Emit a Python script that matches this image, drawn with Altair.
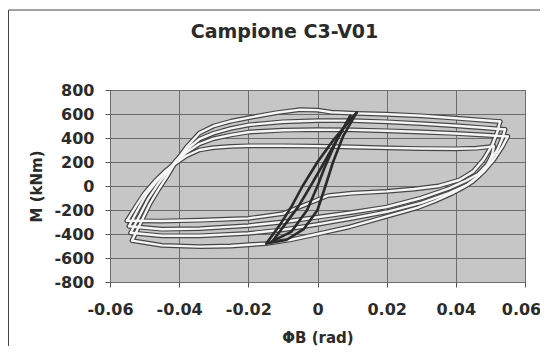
import altair as alt
import pandas as pd

TITLE = "Campione C3-V01"
X_TITLE = "ΦB (rad)"
Y_TITLE = "M (kNm)"
X_TICKS = [-0.06, -0.04, -0.02, 0, 0.02, 0.04, 0.06]
Y_TICKS = [-800, -600, -400, -200, 0, 200, 400, 600, 800]

# --- small cycles (dark lines) ---
SA_X = [-0.0148, -0.011, -0.0075, -0.0043, 0.0, 0.0045, 0.0113]
SA_M = [-479, -330, -170, 0, 200, 380, 611]
SD_X = [0.0113, 0.0075, 0.0045, 0.0023, 0.0, -0.004, -0.009, -0.0148]
SD_M = [611, 420, 200, 0, -200, -360, -450, -479]
SB_X = [-0.013, -0.0055, -0.002, 0.003, 0.0095]
SB_M = [-460, -170, 0, 250, 585]
SC_X = [0.0095, 0.0055, 0.002, 0.0, -0.003, -0.0075, -0.013]
SC_M = [585, 380, 150, 0, -200, -380, -460]

# --- large cycles: upper branches (left tip -> right tip) ---
U1_X = [-0.0536, -0.051, -0.0485, -0.046, -0.0435, -0.041, -0.038, -0.0342, -0.03, -0.025,
        -0.0197, -0.012, -0.005, 0.0, 0.004, 0.0113, 0.02, 0.03, 0.04, 0.0528]
U1_M = [-455, -300, -150, -30, 80, 200, 320, 440, 500, 540, 570, 610, 636, 632, 615, 605,
        598, 585, 565, 537]
U2_X = [-0.054, -0.0515, -0.049, -0.046, -0.043, -0.041, -0.038, -0.0342, -0.03, -0.025,
        -0.0197, -0.01, 0.0, 0.01, 0.02, 0.03, 0.04, 0.048, 0.0542]
U2_M = [-390, -250, -110, 20, 130, 210, 300, 390, 440, 480, 510, 535, 545, 545, 535, 520,
        502, 485, 471]
U3_X = [-0.0545, -0.052, -0.0495, -0.0465, -0.0435, -0.041, -0.038, -0.0342, -0.03, -0.025,
        -0.0197, -0.01, 0.0, 0.01, 0.02, 0.03, 0.04, 0.048, 0.055]
U3_M = [-335, -200, -70, 40, 130, 200, 280, 350, 395, 425, 450, 465, 470, 468, 460, 450,
        438, 425, 413]
U4_X = [-0.0551, -0.0525, -0.05, -0.047, -0.044, -0.041, -0.038, -0.0342, -0.03, -0.025,
        -0.0197, -0.01, 0.0, 0.01, 0.02, 0.03, 0.04, 0.046, 0.051]
U4_M = [-290, -170, -60, 40, 125, 190, 250, 300, 320, 330, 335, 335, 332, 325, 318, 312,
        310, 315, 330]

# --- large cycles: lower branches (right tip -> left tip) ---
B1_X = [0.0528, 0.052, 0.0505, 0.048, 0.045, 0.041, 0.035, 0.028, 0.02, 0.01, 0.003,
        -0.003, -0.01, -0.02, -0.034, -0.045, -0.0551]
B1_M = [537, 450, 340, 220, 120, 50, 0, -25, -45, -60, -80, -150, -230, -270, -285, -292, -290]
B2_X = [0.0542, 0.0535, 0.052, 0.0495, 0.0465, 0.043, 0.038, 0.03, 0.02, 0.01, 0.0, -0.01,
        -0.02, -0.034, -0.045, -0.0545]
B2_M = [471, 400, 300, 190, 100, 45, -20, -100, -175, -220, -260, -300, -330, -355, -360, -335]
B3_X = [0.051, 0.0505, 0.049, 0.0465, 0.043, 0.038, 0.03, 0.02, 0.01, 0.0, -0.01, -0.02,
        -0.034, -0.045, -0.054]
B3_M = [330, 260, 170, 80, 5, -60, -140, -215, -270, -320, -365, -395, -415, -415, -390]
B4_X = [0.055, 0.0535, 0.051, 0.048, 0.045, 0.042, 0.039, 0.034, 0.029, 0.019, 0.0093, 0.0,
        -0.008, -0.015, -0.025, -0.034, -0.045, -0.0536]
B4_M = [413, 330, 220, 120, 40, -15, -60, -125, -180, -262, -340, -400, -450, -480, -500,
        -505, -495, -455]

segments = [
    ("S", "SA", SA_X, SA_M), ("S", "SD", SD_X, SD_M),
    ("S", "SB", SB_X, SB_M), ("S", "SC", SC_X, SC_M),
    ("L", "U1", U1_X, U1_M), ("L", "U2", U2_X, U2_M),
    ("L", "U3", U3_X, U3_M), ("L", "U4", U4_X, U4_M),
    ("L", "B1", B1_X, B1_M), ("L", "B2", B2_X, B2_M),
    ("L", "B3", B3_X, B3_M), ("L", "B4", B4_X, B4_M),
]
rows = []
for kind, seg, xs, ms in segments:
    for i, (xv, mv) in enumerate(zip(xs, ms)):
        rows.append({"kind": kind, "seg": seg, "i": i, "x": xv, "m": mv})
df = pd.DataFrame(rows)

FONT = "DejaVu Sans"
TXT = "#2b2b2b"

x_enc = alt.X(
    "x:Q",
    scale=alt.Scale(domain=[-0.06, 0.06], nice=False, zero=False),
    axis=alt.Axis(
        values=X_TICKS, title=X_TITLE, labelOverlap=False, labelFlush=False,
        labelExpr="(datum.value < 0 ? '-' : '') + (datum.value == 0 ? '0' : format(abs(datum.value), '.2f'))",
        labelOffset={"condition": {"test": "datum.value > 0.059", "value": -4}, "value": 0},
        tickSize=5, labelPadding=14, titlePadding=13,
    ),
)
y_enc = alt.Y(
    "m:Q",
    scale=alt.Scale(domain=[-800, 800], nice=False, zero=False),
    axis=alt.Axis(
        values=Y_TICKS, title=Y_TITLE, labelOverlap=False, labelFlush=False,
        labelExpr="(datum.value < 0 ? '-' : '') + abs(datum.value)",
        tickSize=5, labelPadding=11, titlePadding=9,
    ),
)

base = alt.Chart(df)
outline = base.transform_filter("datum.kind == 'L'").mark_line(
    color="#474747", strokeWidth=4.8, strokeJoin="round", strokeCap="round"
).encode(x=x_enc, y=y_enc, detail="seg:N", order="i:Q")
white = base.transform_filter("datum.kind == 'L'").mark_line(
    color="#f6f6f6", strokeWidth=2.4, strokeJoin="round", strokeCap="round"
).encode(x=x_enc, y=y_enc, detail="seg:N", order="i:Q")
small = base.transform_filter("datum.kind == 'S'").mark_line(
    color="#2a2a2a", strokeWidth=2.6, strokeJoin="round", strokeCap="round"
).encode(x=x_enc, y=y_enc, detail="seg:N", order="i:Q")

frame_df = pd.DataFrame({"k": [0]})
frame_left = alt.Chart(frame_df).mark_rule(color="#444", strokeWidth=1).encode(
    x=alt.value(-101.5), x2=alt.value(-101.5), y=alt.value(-80), y2=alt.value(270)
)
frame_top = alt.Chart(frame_df).mark_rule(color="#444", strokeWidth=1).encode(
    x=alt.value(-101.5), x2=alt.value(430), y=alt.value(-80), y2=alt.value(-80)
)

chart = alt.layer(outline, white, small, frame_left, frame_top).properties(
    width=415,
    height=192,
    autosize=alt.AutoSizeParams(type="none"),
    padding={"left": 102, "top": 82, "right": 15, "bottom": 64},
    background="white",
    title=alt.TitleParams(
        TITLE, fontSize=19, font=FONT, fontWeight="bold", color=TXT,
        anchor="middle", dx=-33, offset=-32, frame="group",
    ),
).configure_view(
    fill="#c6c6c6", stroke="#555555", strokeWidth=1
).configure_axis(
    labelFont=FONT, titleFont=FONT, labelFontSize=16, titleFontSize=15,
    labelFontWeight="bold", titleFontWeight="bold", labelColor=TXT, titleColor=TXT,
    grid=True, gridColor="#6c6c6c", gridOpacity=1, gridWidth=1,
    domain=False, tickColor="#555555", tickWidth=1,
)

chart.save("out.html", embed_options={"renderer": "svg", "actions": False})
